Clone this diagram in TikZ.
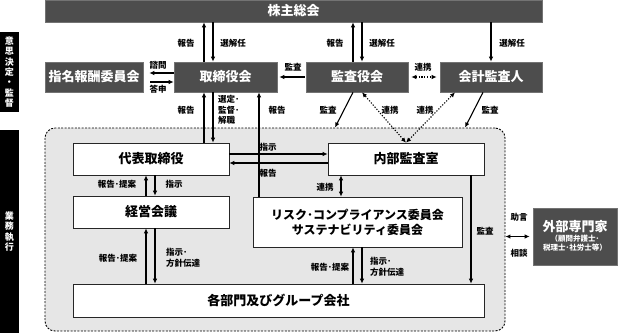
\documentclass[tikz,border=0pt]{standalone}
\usepackage{fontspec}
\setmainfont{Noto Sans CJK JP}
\usetikzlibrary{arrows.meta,calc}
\definecolor{darkbox}{HTML}{4D4D4D}
\definecolor{grpfill}{HTML}{E6E6E6}
\begin{document}
\begin{tikzpicture}[x=1pt,y=-1pt,
  darkb/.style={draw=black!55, line width=0.6pt, fill=darkbox, text=white, font=\fontsize{13}{15}\selectfont\bfseries, inner sep=0pt},
  whiteb/.style={draw=black!85, line width=0.6pt, fill=white, font=\fontsize{13}{15}\selectfont\bfseries, inner sep=0pt},
  arr/.style={line width=1.1pt, -{Latex[length=5pt,width=4.5pt]}},
  darr/.style={line width=1.1pt, {Latex[length=5pt,width=4.5pt]}-{Latex[length=5pt,width=4.5pt]}},
  dotarr/.style={line width=1.1pt, dash pattern=on 1.2pt off 1.6pt, {Latex[length=5pt,width=4.5pt]}-{Latex[length=5pt,width=4.5pt]}},
  lbl/.style={font=\fontsize{8.5}{10.5}\selectfont\bfseries, inner sep=0pt, align=left},
  sidebar/.style={fill=black, text=white, font=\fontsize{9}{10.3}\selectfont\bfseries, align=center, inner sep=0pt, minimum width=19pt},
]
\useasboundingbox (0,0) rectangle (618,333);

% group area
\node[draw, dash pattern=on 2pt off 1.4pt, line width=0.9pt, fill=grpfill, rounded corners=10pt,
      minimum width=460pt, minimum height=203pt, inner sep=0pt] (grp) at (275,229.5) {};

% side bars
\node[sidebar, minimum height=80pt] (sb1) at (9.5,72) {意\\思\\決\\定\\・\\監\\督};
\node[sidebar, minimum height=203pt] (sb2) at (9.5,231.5) {業\\務\\執\\行};

% column / row helpers
\foreach \cx in {146,155,204,213,259,335,341,353,362,455,465,471,483,491}
  \coordinate (c\cx) at (\cx,0);
\foreach \ry in {73,82,154,163}
  \coordinate (r\ry) at (0,\ry);

% boxes
\node[darkb, minimum width=497pt, minimum height=22pt] (sh) at (293.5,11) {株主総会};
\node[darkb, minimum width=98pt, minimum height=30pt] (nom) at (94,77) {指名報酬委員会};
\node[darkb, minimum width=103pt, minimum height=30pt] (bod) at (225.5,77) {取締役会};
\node[darkb, minimum width=102pt, minimum height=30pt] (kan) at (357,77) {監査役会};
\node[darkb, minimum width=102pt, minimum height=30pt] (kai) at (491,77) {会計監査人};

\node[whiteb, minimum width=156pt, minimum height=32pt] (ceo) at (151,159) {代表取締役};
\node[whiteb, minimum width=156pt, minimum height=32pt] (mgmt) at (151,212) {経営会議};
\node[whiteb, minimum width=156pt, minimum height=32pt] (audit) at (406,159) {内部監査室};
\node[whiteb, minimum width=209pt, minimum height=50pt, align=center, font=\fontsize{12}{15}\selectfont\bfseries] (risk) at (357.5,222) {リスク･コンプライアンス委員会\\サステナビリティ委員会};
\node[whiteb, minimum width=411pt, minimum height=33pt] (dept) at (278.5,300.5) {各部門及びグループ会社};
\node[darkb, minimum width=84pt, minimum height=57pt, font=\fontsize{7.5}{9}\selectfont\bfseries] (ext) at (575,236.5)
  {\begin{tabular}{@{}c@{}}{\fontsize{13}{15}\selectfont 外部専門家}\\[1pt]（顧問弁護士･\\税理士･社労士等）\end{tabular}};

% connectors: shareholders
\draw[arr] (bod.north -| c204) -- (sh.south -| c204);
\draw[arr] (sh.south -| c213) -- (bod.north -| c213);
\draw[arr] (kan.north -| c353) -- (sh.south -| c353);
\draw[arr] (sh.south -| c362) -- (kan.north -| c362);
\draw[arr] (sh.south -| c491) -- (kai.north -| c491);

% row 2
\draw[arr, shorten >=6pt] (bod.west |- r73) -- (nom.east |- r73);
\draw[arr, shorten <=7pt] (nom.east |- r82) -- (bod.west |- r82);
\draw[arr, shorten <=1pt, shorten >=2pt] (kan.west) -- (bod.east);
\draw[dotarr, shorten <=3pt, shorten >=3pt] (kan.east) -- (kai.west);

% board <-> execution
\draw[arr] (ceo.north -| c204) -- (bod.south -| c204);
\draw[arr] (bod.south -| c213) -- (ceo.north -| c213);
\draw[arr] (risk.north -| c259) -- (bod.south -| c259);

% audit board / accounting auditor to group
\draw[arr] (kan.south -| c353) -- (grp.north -| c335);
\draw[arr] (kai.south -| c483) -- (grp.north -| c465);
\draw[dotarr] (audit.north) -- (kan.south -| c362);
\draw[dotarr] (audit.north) -- (kai.south -| c455);

% inside group
\draw[arr] (ceo.east |- r154) -- (audit.west |- r154);
\draw[arr] (audit.west |- r163) -- (ceo.east |- r163);
\draw[arr] (mgmt.north -| c146) -- (ceo.south -| c146);
\draw[arr] (ceo.south -| c155) -- (mgmt.north -| c155);
\draw[arr] (dept.north -| c146) -- (mgmt.south -| c146);
\draw[arr] (mgmt.south -| c155) -- (dept.north -| c155);
\draw[darr] (audit.south -| c341) -- (risk.north -| c341);
\draw[arr] (audit.south -| c471) -- (dept.north -| c471);
\draw[arr] (dept.north -| c353) -- (risk.south -| c353);
\draw[arr] (risk.south -| c362) -- (dept.north -| c362);

% external experts
\draw[darr, shorten >=3pt] (grp.east |- ext.west) -- (ext.west);

% labels
\node[lbl] (l01) at (186,43) {報告};
\node[lbl] (l02) at (233,43) {選解任};
\node[lbl] (l03) at (335,43) {報告};
\node[lbl] (l04) at (382,43) {選解任};
\node[lbl] (l05) at (512,43) {選解任};
\node[lbl] (l06) at (158,65) {諮問};
\node[lbl] (l07) at (158,89) {答申};
\node[lbl] (l08) at (293,67) {監査};
\node[lbl] (l09) at (423,67) {連携};
\node[lbl] (l10) at (186,110) {報告};
\node[lbl, anchor=west] (l11) at (218,110) {選定･\\監督･\\解職};
\node[lbl] (l12) at (277,110) {報告};
\node[lbl] (l13) at (328,110) {監査};
\node[lbl] (l14) at (390,110) {連携};
\node[lbl] (l15) at (425,110) {連携};
\node[lbl] (l16) at (490,110) {監査};
\node[lbl] (l17) at (268,147) {指示};
\node[lbl] (l18) at (268,173) {報告};
\node[lbl] (l19) at (117,184) {報告･提案};
\node[lbl] (l20) at (174,184) {指示};
\node[lbl] (l21) at (325,187) {連携};
\node[lbl] (l22) at (485,231) {監査};
\node[lbl] (l23) at (519,217) {助言};
\node[lbl] (l24) at (519,253) {相談};
\node[lbl] (l25) at (118,258) {報告･提案};
\node[lbl, anchor=west] (l26) at (166,258) {指示･\\方針伝達};
\node[lbl] (l27) at (330,267) {報告･提案};
\node[lbl, anchor=west] (l28) at (370,267) {指示･\\方針伝達};
\end{tikzpicture}
\end{document}
